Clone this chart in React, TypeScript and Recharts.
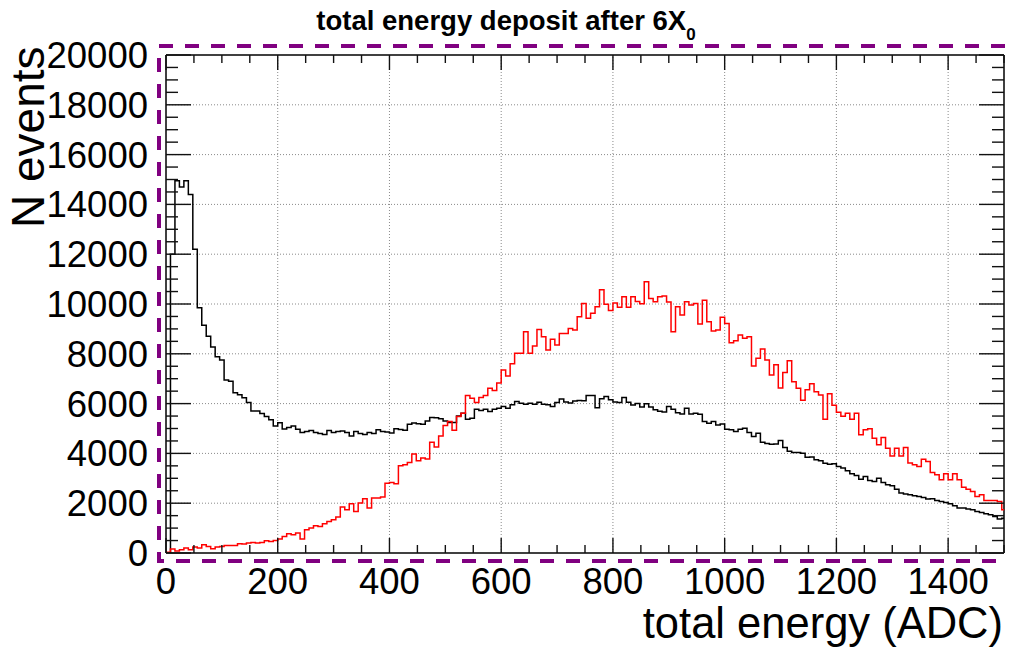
import React from 'react';
import { LineChart, Line, XAxis, YAxis, ReferenceLine } from 'recharts';

// histogram binning (ADC)
const BIN_WIDTH = 8;
const X_MAX = 1500;
const Y_MAX = 20000;

// black histogram, bin contents (bins of 8 ADC starting at 0)
const blackCounts = [
  0, 12000, 14950, 14700, 14950, 14400, 12200, 9850, 9150, 8700,
  8270, 7880, 7750, 6950, 6900, 6440, 6360, 6230, 6040, 5700,
  5700, 5600, 5480, 5350, 5100, 5230, 4980, 5040, 5100, 4970,
  4840, 4880, 4920, 4840, 4800, 4760, 4920, 4840, 4880, 4900,
  4840, 4700, 4880, 4800, 4760, 4840, 4800, 4950, 4880, 4860,
  4820, 4990, 4960, 4930, 5170, 5220, 5190, 5170, 5300, 5440,
  5430, 5390, 5300, 5240, 5240, 5500, 5610, 5370, 5410, 5770,
  5720, 5770, 5680, 5770, 5810, 5880, 5810, 5950, 6080, 6015,
  5975, 6015, 5975, 6055, 5975, 5950, 5880, 6040, 6180, 6060,
  6020, 6100, 6120, 6110, 6330, 6330, 5830, 6190, 6290, 6150,
  6060, 6040, 6250, 6050, 5940, 6000, 5860, 5990, 5860, 5750,
  5690, 5660, 5880, 5770, 5630, 5585, 5815, 5585, 5615, 5575,
  5280, 5210, 5280, 5145, 5185, 4970, 4945, 4880, 4970, 5010,
  4840, 4675, 4810, 4450, 4400, 4370, 4380, 4515, 4240, 4090,
  4035, 4035, 4010, 3850, 3860, 3750, 3700, 3600, 3560, 3580,
  3475, 3410, 3300, 3180, 3110, 2965, 3070, 2910, 2870, 3005,
  2830, 2740, 2700, 2565, 2405, 2365, 2340, 2300, 2270, 2230,
  2165, 2180, 2110, 2070, 2030, 1975, 1895, 1805, 1805, 1765,
  1735, 1670, 1630, 1575, 1535, 1470, 1365, 1400,
];

// red histogram, same binning
const redCounts = [
  30, 160, 80, 130, 200, 130, 240, 200, 335, 265,
  170, 240, 265, 305, 305, 305, 375, 360, 400, 425,
  400, 425, 495, 465, 505, 560, 665, 775, 735, 800,
  560, 935, 1000, 1095, 1065, 1175, 1270, 1335, 1445, 1845,
  1735, 1975, 1670, 2005, 2180, 1805, 2205, 2205, 2245, 2805,
  2830, 2780, 3500, 3540, 3635, 3980, 3700, 3820, 3780, 4450,
  4260, 4700, 5120, 5280, 4930, 5480, 5615, 6330, 6215, 6040,
  6250, 6330, 6615, 6530, 6830, 7350, 7110, 7600, 8020, 8020,
  8885, 8020, 8310, 8980, 8685, 8150, 8580, 8350, 8820, 8820,
  9020, 8955, 9490, 10025, 9425, 9625, 9890, 10570, 9990, 9740,
  10040, 9865, 10290, 9865, 10290, 10100, 10010, 10890, 10225, 10090,
  10290, 10320, 10080, 8885, 9890, 9555, 10090, 9955, 10025, 9195,
  10155, 9290, 8915, 8955, 9465, 9220, 8445, 8525, 8755, 8620,
  8685, 7510, 7820, 8190, 7750, 7150, 7560, 6630, 7250, 7720,
  6880, 6615, 6130, 6560, 6800, 6480, 6350, 5370, 6400, 5930,
  5650, 5490, 5615, 5370, 5615, 4745, 4945, 4985, 4610, 4345,
  4635, 4210, 3900, 4210, 3900, 4235, 3610, 3540, 3475, 3770,
  3675, 3230, 3140, 2940, 3180, 2940, 3180, 2940, 2645, 2565,
  2470, 2270, 2340, 2110, 2110, 2110, 2070, 1735,
];

const xGridLines = [200, 400, 600, 800, 1000, 1200, 1400];
const yGridLines = [2000, 4000, 6000, 8000, 10000, 12000, 14000, 16000, 18000];

// tick marks: majors get labels, minors are just marks
const X_MAJOR = 200;
const X_MINOR = 50;
const Y_MAJOR = 2000;
const Y_MINOR = 500;
const xTicks = Array.from({ length: X_MAX / X_MINOR + 1 }, (_, i) => i * X_MINOR);
const yTicks = Array.from({ length: Y_MAX / Y_MINOR + 1 }, (_, i) => i * Y_MINOR);

// layout
const W = 1012;
const H = 650;
const PLOT_LEFT = 166;
const PLOT_RIGHT = 1004;
const PLOT_TOP = 55;
const PLOT_BOTTOM = 553;

const FONT = '"Liberation Sans", Arial, Helvetica, sans-serif';

const last = blackCounts.length - 1;
const histData = blackCounts.map((b, i) => ({ x: i * BIN_WIDTH, black: b, red: redCounts[i] }));
histData.push({ x: X_MAX, black: blackCounts[last], red: redCounts[last] });

function XTick(props: any) {
  const { x, payload } = props;
  const v = payload.value;
  const major = v % X_MAJOR === 0;
  const len = major ? 15 : 8;
  return (
    <g>
      <line x1={x} x2={x} y1={PLOT_BOTTOM} y2={PLOT_BOTTOM - len} stroke="#111" strokeWidth={1.4} />
      <line x1={x} x2={x} y1={PLOT_TOP} y2={PLOT_TOP + len} stroke="#111" strokeWidth={1.4} />
      {major && v < X_MAX && (
        <text x={x} y={594} textAnchor="middle" fontFamily={FONT} fontSize={36.5} fill="#000">
          {v}
        </text>
      )}
    </g>
  );
}

function YTick(props: any) {
  const { y, payload } = props;
  const v = payload.value;
  const major = v % Y_MAJOR === 0;
  const len = major ? 25 : 12;
  return (
    <g>
      <line x1={PLOT_LEFT} x2={PLOT_LEFT + len} y1={y} y2={y} stroke="#111" strokeWidth={1.4} />
      <line x1={PLOT_RIGHT - len} x2={PLOT_RIGHT} y1={y} y2={y} stroke="#111" strokeWidth={1.4} />
      {major && (
        <text x={148} y={y + 13} textAnchor="end" fontFamily={FONT} fontSize={36.5} fill="#000">
          {v}
        </text>
      )}
    </g>
  );
}

export default function App() {
  return (
    <div style={{ position: 'absolute', left: 0, top: 0, width: W, height: H, background: '#fff' }}>
      <LineChart
        width={W}
        height={H}
        data={histData}
        margin={{ top: PLOT_TOP, right: W - PLOT_RIGHT, bottom: 0, left: 0 }}
      >
        {xGridLines.map((v) => (
          <ReferenceLine key={'gx' + v} x={v} stroke="#8a8a8a" strokeWidth={1} strokeDasharray="1 2" />
        ))}
        {yGridLines.map((v) => (
          <ReferenceLine key={'gy' + v} y={v} stroke="#8a8a8a" strokeWidth={1} strokeDasharray="1 2" />
        ))}
        <XAxis
          dataKey="x"
          type="number"
          domain={[0, X_MAX]}
          allowDataOverflow
          ticks={xTicks}
          interval={0}
          height={H - PLOT_BOTTOM}
          tickSize={0}
          tickMargin={0}
          tickLine={false}
          axisLine={{ stroke: '#000', strokeWidth: 1.5 }}
          tick={(p: any) => <XTick {...p} />}
        />
        <YAxis
          type="number"
          domain={[0, Y_MAX]}
          allowDataOverflow
          ticks={yTicks}
          interval={0}
          width={PLOT_LEFT}
          tickSize={0}
          tickMargin={0}
          tickLine={false}
          axisLine={{ stroke: '#000', strokeWidth: 1.5 }}
          tick={(p: any) => <YTick {...p} />}
        />
        <ReferenceLine y={Y_MAX} stroke="#000" strokeWidth={1.5} />
        <ReferenceLine x={X_MAX} stroke="#000" strokeWidth={1.5} />
        <Line
          type="stepAfter"
          dataKey="black"
          stroke="#000"
          strokeWidth={1.5}
          dot={false}
          activeDot={false}
          isAnimationActive={false}
        />
        <Line
          type="stepAfter"
          dataKey="red"
          stroke="#ff0000"
          strokeWidth={1.5}
          dot={false}
          activeDot={false}
          isAnimationActive={false}
        />
      </LineChart>
      <svg
        width={W}
        height={H}
        style={{ position: 'absolute', left: 0, top: 0, pointerEvents: 'none' }}
      >
        <path
          d={`M ${PLOT_RIGHT + 1} 46 H 159 V 561 H ${PLOT_RIGHT + 1}`}
          fill="none"
          stroke="#800080"
          strokeWidth={4}
          strokeDasharray="14 12"
        />
        <text x={506} y={30} textAnchor="middle" fontFamily={FONT} fontWeight="bold" fontSize={27.5} fill="#000">
          total energy deposit after 6X
          <tspan fontSize={17} dy={10}>0</tspan>
        </text>
        <text
          transform="translate(44, 228) rotate(-90)"
          fontFamily={FONT}
          fontSize={46}
          fill="#000"
        >
          N events
        </text>
        <text x={1003} y={638} textAnchor="end" fontFamily={FONT} fontSize={43.5} fill="#000">
          total energy (ADC)
        </text>
      </svg>
    </div>
  );
}
